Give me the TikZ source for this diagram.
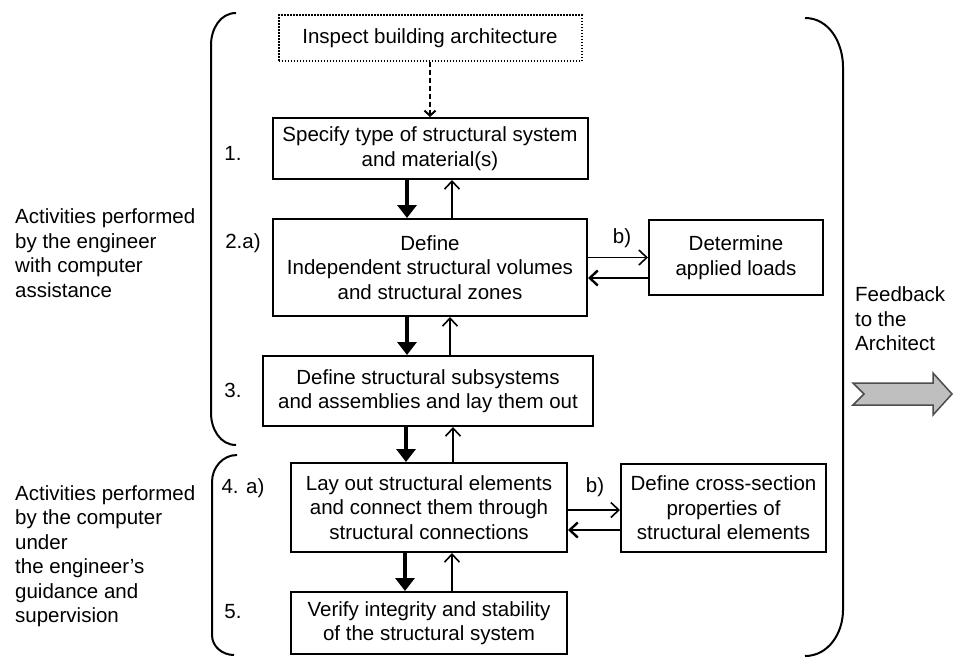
\documentclass[tikz,border=0pt]{standalone}
\usepackage{fontspec}
\setmainfont{Liberation Sans}
\usetikzlibrary{arrows.meta}
\begin{document}
\begin{tikzpicture}[x=1pt,y=-1pt,
  txt/.style={font=\fontsize{20.5}{24.5}\selectfont},
  box/.style={draw,line width=2pt,align=center,txt,inner sep=0pt},
  dotbox/.style={box,dash pattern=on 1.5pt off 1.5pt},
  thickarr/.style={line width=4.5pt,-{Triangle[width=19pt,length=13pt]}},
  thinarr/.style={line width=1.6pt,-{Straight Barb[width=15pt,length=8pt]}},
  backarr/.style={line width=2.4pt,-{Straight Barb[width=15pt,length=8pt]}},
  dasharr/.style={line width=2pt,dash pattern=on 5pt off 3pt,-{Straight Barb[width=11pt,length=5pt]}},
  brk/.style={line width=2pt},
  lbl/.style={txt,inner sep=0pt},
  side/.style={txt,align=left,anchor=west,inner sep=0pt}
]
\useasboundingbox (0,0) rectangle (953,657);

% brackets
\draw[brk] (236,13) to[out=180,in=90] (211,45) -- (211,413) to[out=-90,in=180] (236,445);
\draw[brk] (237,455) to[out=180,in=90] (212,482) -- (212,635) to[out=-90,in=180] (234,655);
\draw[brk] (805,18) to[out=0,in=90] (843,67) -- (843,610) to[out=-90,in=0] (805,656);

% boxes
\node[dotbox,minimum width=303pt,minimum height=46pt] (insp) at (430,38) {Inspect building architecture};
\node[box,minimum width=315pt,minimum height=61pt] (b1) at (430,148.5) {Specify type of structural system\\and material(s)};
\node[box,minimum width=314pt,minimum height=97pt] (b2a) at (430,267.5) {Define\\Independent structural volumes\\and structural zones};
\node[box,minimum width=174pt,minimum height=75pt] (b2b) at (736,257.5) {Determine\\applied loads};
\node[box,minimum width=330pt,minimum height=70pt] (b3) at (428,391) {Define structural subsystems\\and assemblies and lay them out};
\node[box,minimum width=276pt,minimum height=89pt] (b4a) at (429,507.5) {Lay out structural elements\\and connect them through\\structural connections};
\node[box,minimum width=205pt,minimum height=88pt] (b4b) at (723.5,508) {Define cross-section\\properties of\\structural elements};
\node[box,minimum width=276pt,minimum height=62pt] (b5) at (429,623) {Verify integrity and stability\\of the structural system};

% labels
\node[lbl] (l1) at (233,153) {1.};
\node[lbl] (l2) at (243,243) {2.a)};
\node[lbl] (l2b) at (622,238) {b)};
\node[lbl] (l3) at (233,390) {3.};
\node[lbl] (l4) at (243,488) {4. a)};
\node[lbl] (l4b) at (595,487) {b)};
\node[lbl] (l5) at (233,612) {5.};

\node[side] (eng) at (15,253) {Activities performed\\by the engineer\\with computer\\assistance};
\node[side] (comp) at (15,556) {Activities performed\\by the computer\\under\\the engineer's\\guidance and\\supervision};
\node[side] (fb) at (855,319) {Feedback\\to the\\Architect};

% feedback arrow
\draw[fill=black!25,draw=black!70,line width=1.5pt] (853,383) -- (933,383) -- (933,373) -- (952,394) -- (933,415) -- (933,405) -- (853,405) -- (864,394) -- cycle;

% vertical connectors
\draw[dasharr] (insp.south) -- (b1.north);
\draw[thickarr] ([xshift=-23pt]b1.south) coordinate (d1) -- (d1 |- b2a.north);
\draw[thinarr] ([xshift=22pt]b2a.north) coordinate (u1) -- (u1 |- b1.south);
\draw[thickarr] ([xshift=-23pt]b2a.south) coordinate (d2) -- (d2 |- b3.north);
\draw[thinarr] ([xshift=22pt]b3.north) coordinate (u2) -- (u2 |- b2a.south);
\draw[thickarr] ([xshift=-22pt]b3.south) coordinate (d3) -- (d3 |- b4a.north);
\draw[thinarr] ([xshift=24pt]b4a.north) coordinate (u3) -- (u3 |- b3.south);
\draw[thickarr] ([xshift=-24pt]b4a.south) coordinate (d4) -- (d4 |- b5.north);
\draw[thinarr] ([xshift=23pt]b5.north) coordinate (u4) -- (u4 |- b4a.south);

% horizontal connectors
\draw[thinarr] (b2a.east |- b2b.west) -- (b2b.west);
\draw[backarr] ([yshift=-20.5pt]b2b.west) coordinate (r1) -- (r1 -| b2a.east);
\path ([yshift=-2pt]b4b.west) coordinate (f4);
\draw[thinarr] (f4 -| b4a.east) -- (f4);
\draw[backarr] ([yshift=-22pt]b4b.west) coordinate (r2) -- (r2 -| b4a.east);
\end{tikzpicture}
\end{document}
